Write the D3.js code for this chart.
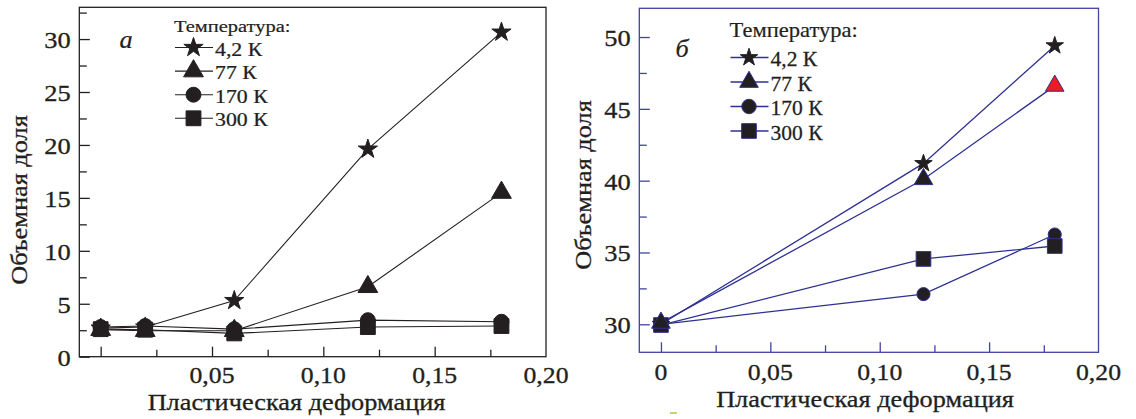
<!DOCTYPE html>
<html><head><meta charset="utf-8">
<script src="https://cdn.jsdelivr.net/npm/d3@7"></script>
<style>html,body{margin:0;padding:0;background:#fff;}svg{display:block;}</style>
</head><body>
<svg id="chart" width="1136" height="419"></svg>
<script>
// ---------- data ----------
const seriesNames = ["4,2 К", "77 К", "170 К", "300 К"];
const legendTitle = "Температура:";
const xTitle = "Пластическая деформация";
const yTitle = "Объемная доля";
// panel a
const xValsA = [0, 0.02, 0.06, 0.12, 0.18];
const a_4K   = [2.7, 2.8, 5.3, 19.6, 30.65];
const a_77K  = [2.55, 2.45, 2.45, 6.6, 15.5];
const a_170K = [2.8, 2.9, 2.6, 3.45, 3.3];
const a_300K = [2.6, 2.55, 2.2, 2.8, 2.9];
// panel b
const xValsB = [0, 0.12, 0.18];
const b_4K   = [30.0, 41.2, 49.4];
const b_77K  = [30.1, 40.1, 46.6];
const b_170K = [30.0, 32.1, 36.25];
const b_300K = [29.95, 34.55, 35.45];
// ticks
const xMajor = [0, 0.05, 0.10, 0.15];
const xMinor = [0.025, 0.075, 0.125, 0.175];
const xLabelValsA = [0.05, 0.10, 0.15, 0.20];
const xLabelsA = ["0,05", "0,10", "0,15", "0,20"];
const xLabelValsB = [0, 0.05, 0.10, 0.15, 0.20];
const xLabelsB = ["0", "0,05", "0,10", "0,15", "0,20"];
const yMajorA = [0, 5, 10, 15, 20, 25, 30];
const yMinorA = [2.5, 7.5, 12.5, 17.5, 22.5, 27.5, 32.5];
const yMajorB = [30, 35, 40, 45, 50];
const yMinorB = [32.5, 37.5, 42.5, 47.5];

// ---------- setup ----------
const svg = d3.select("#chart");
const FONT = "'Liberation Serif','Times New Roman',serif";

function txt(g, x, y, str, o = {}) {
  const t = g.append("text")
    .attr("transform", `translate(${x},${y}) rotate(${o.rotate || 0}) scale(${o.stretch || 1.15},1)`)
    .attr("text-anchor", o.anchor || "start")
    .attr("font-family", FONT)
    .attr("font-size", o.size || 23)
    .attr("fill", "#231f20")
    .attr("stroke", "#231f20")
    .attr("stroke-width", o.sw == null ? 0.3 : o.sw)
    .text(str);
  if (o.baseline) t.attr("dominant-baseline", o.baseline);
  if (o.italic) t.attr("font-style", "italic");
  return t;
}

const symbols = [d3.symbolStar, d3.symbolTriangle, d3.symbolCircle, d3.symbolSquare];

function panel(cfg) {
  const g = svg.append("g");
  const x = cfg.x, y = cfg.y;
  const [x0, x1] = x.range();
  const [y0, y1] = y.range();
  const tickG = (axis, tr, len) => {
    const a = g.append("g").attr("transform", tr).call(axis.tickSize(-len).tickFormat(""));
    a.select(".domain").remove();
    a.selectAll("line").attr("stroke", cfg.axisColor).attr("stroke-width", 1.3);
  };
  tickG(d3.axisBottom(x).tickValues(xMajor), `translate(0,${y0})`, 10);
  tickG(d3.axisBottom(x).tickValues(xMinor), `translate(0,${y0})`, 7);
  tickG(d3.axisLeft(y).tickValues(cfg.yMajor), `translate(${x0},0)`, 10.5);
  tickG(d3.axisLeft(y).tickValues(cfg.yMinor), `translate(${x0},0)`, 7.5);
  g.append("rect").attr("x", x0).attr("y", y1).attr("width", x1 - x0).attr("height", y0 - y1)
    .attr("fill", "none").attr("stroke", cfg.axisColor).attr("stroke-width", 1.3);
  cfg.yMajor.forEach(v => txt(g, x0 - 8.5, y(v) + 1, String(v), {anchor: "end", baseline: "central", size: 23, stretch: 1.15}));
  cfg.xLabelVals.forEach((v, i) => txt(g, x(v), cfg.xLabelY, cfg.xLabels[i], {anchor: "middle", size: 23, stretch: 1.12}));
  txt(g, cfg.xTitleX, cfg.xTitleY, xTitle, {anchor: "middle", size: 23.5, stretch: 1.12});
  txt(g, cfg.yTitleX, cfg.yTitleY, yTitle, {anchor: "middle", size: 23.5, stretch: 1.12, rotate: -90});
  txt(g, cfg.letterX, cfg.letterY, cfg.letter, {anchor: "middle", size: 25, italic: true, stretch: 1.05, sw: 0.2});
  const line = d3.line().x(d => x(d[0])).y(d => y(d[1]));
  cfg.series.forEach(s => {
    g.append("path").datum(cfg.xVals.map((v, i) => [v, s.vals[i]]))
      .attr("d", line).attr("fill", "none").attr("stroke", cfg.lineColor).attr("stroke-width", cfg.lineWidth);
  });
  cfg.order.forEach(k => {
    const s = cfg.series[k];
    cfg.xVals.forEach((v, i) => {
      g.append("path").attr("d", d3.symbol(symbols[k], cfg.sizes[k])())
        .attr("transform", `translate(${x(v)},${y(s.vals[i])})`)
        .attr("fill", (s.fills && s.fills[i]) || cfg.markerFill)
        .attr("stroke", k === 0 ? cfg.markerFill : cfg.markerStroke).attr("stroke-width", 1);
    });
  });
  const L = cfg.legend;
  txt(g, L.x, L.titleY, legendTitle, {size: L.titleSize, stretch: L.titleStretch, sw: 0.2});
  seriesNames.forEach((n, k) => {
    const ly = L.y0 + k * L.dy;
    g.append("line").attr("x1", L.x + 1).attr("x2", L.x + L.len).attr("y1", ly).attr("y2", ly)
      .attr("stroke", cfg.lineColor).attr("stroke-width", cfg.lineWidth);
    g.append("path").attr("d", d3.symbol(symbols[k], L.sizes[k])())
      .attr("transform", `translate(${L.x + L.len / 2},${ly})`)
      .attr("fill", cfg.markerFill).attr("stroke", k === 0 ? cfg.markerFill : cfg.markerStroke).attr("stroke-width", 1);
    txt(g, L.x + L.len + 2, ly + L.textDy, n, {size: L.size, stretch: L.stretch, sw: 0.25});
  });
}

panel({
  x: d3.scaleLinear().domain([-0.0096, 0.2]).range([79.3, 546]),
  y: d3.scaleLinear().domain([0, 33]).range([356.7, 7.3]),
  yMajor: yMajorA, yMinor: yMinorA,
  xLabelVals: xLabelValsA, xLabels: xLabelsA, xLabelY: 383,
  xTitleX: 296.5, xTitleY: 410, yTitleX: 27, yTitleY: 200,
  letter: "a", letterX: 126, letterY: 48,
  axisColor: "#231f20", lineColor: "#231f20", lineWidth: 1.1,
  markerFill: "#231f20", markerStroke: "#231f20",
  xVals: xValsA,
  series: [{vals: a_4K}, {vals: a_77K}, {vals: a_170K}, {vals: a_300K}],
  order: [0, 1, 2, 3],
  sizes: [115, 170, 175, 220],
  legend: {x: 174, titleY: 31.5, titleSize: 17.5, titleStretch: 1.17, y0: 47.5, dy: 23.6, len: 39,
           size: 19.5, stretch: 1.12, textDy: 8,
           sizes: [115, 170, 175, 220]}
});

panel({
  x: d3.scaleLinear().domain([-0.0099, 0.2]).range([639.3, 1098.5]),
  y: d3.scaleLinear().domain([28.05, 52.0]).range([352.3, 8.3]),
  yMajor: yMajorB, yMinor: yMinorB,
  xLabelVals: xLabelValsB, xLabels: xLabelsB, xLabelY: 380,
  xTitleX: 865, xTitleY: 407, yTitleX: 591, yTitleY: 185,
  letter: "б", letterX: 682, letterY: 57,
  axisColor: "#4343a3", lineColor: "#2e3192", lineWidth: 1.3,
  markerFill: "#231f20", markerStroke: "#2e3192",
  xVals: xValsB,
  series: [{vals: b_4K}, {vals: b_77K, fills: [null, null, "#ed1c24"]}, {vals: b_170K}, {vals: b_300K}],
  order: [2, 3, 0, 1],
  sizes: [95, 150, 135, 215],
  legend: {x: 729.5, titleY: 37.3, titleSize: 20.5, titleStretch: 1.1, y0: 57.5, dy: 24.5, len: 39,
           size: 20.5, stretch: 1.05, textDy: 8.5,
           sizes: [95, 150, 165, 215]}
});

// small green printing mark under panel b
svg.append("line").attr("x1", 670).attr("x2", 677).attr("y1", 413).attr("y2", 413)
  .attr("stroke", "#a6ce39").attr("stroke-width", 1.5);
</script>
</body></html>
